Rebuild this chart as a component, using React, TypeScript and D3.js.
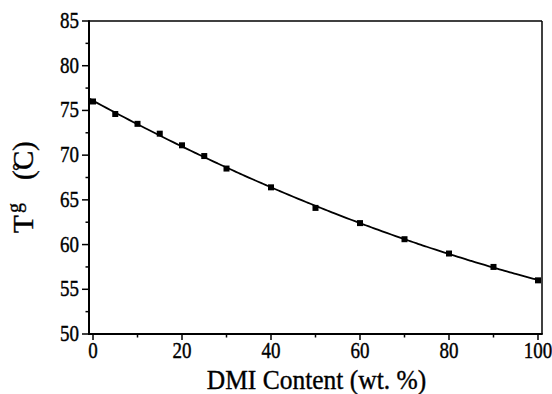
import React from "react";
import * as d3 from "d3";

// DMI content (wt. %) and measured glass transition temperature (°C)
const dmiContent = [0, 5, 10, 15, 20, 25, 30, 40, 50, 60, 70, 80, 90, 100];
const tgValues = [76.0, 74.6, 73.5, 72.4, 71.1, 69.9, 68.5, 66.4, 64.1, 62.4, 60.6, 59.0, 57.5, 56.0];

const xMajorTicks = [0, 20, 40, 60, 80, 100];
const xMinorTicks = [10, 30, 50, 70, 90];
const yMajorTicks = [50, 55, 60, 65, 70, 75, 80, 85];
const yMinorTicks = [52.5, 57.5, 62.5, 67.5, 72.5, 77.5, 82.5];

const W = 552;
const H = 394;
const left = 89;
const right = 542;
const top = 21;
const bottom = 334;

const FONT = "'Liberation Serif', 'Times New Roman', Times, serif";

// Least-squares quadratic fit of Tg against DMI content
function quadFit(xs: number[], ys: number[]) {
  const n = xs.length;
  let s1 = 0, s2 = 0, s3 = 0, s4 = 0, t0 = 0, t1 = 0, t2 = 0;
  for (let i = 0; i < n; i++) {
    const x = xs[i], y = ys[i];
    s1 += x; s2 += x * x; s3 += x * x * x; s4 += x * x * x * x;
    t0 += y; t1 += x * y; t2 += x * x * y;
  }
  const M = [
    [n, s1, s2, t0],
    [s1, s2, s3, t1],
    [s2, s3, s4, t2],
  ];
  for (let c = 0; c < 3; c++) {
    for (let r = c + 1; r < 3; r++) {
      const f = M[r][c] / M[c][c];
      for (let k = c; k < 4; k++) M[r][k] -= f * M[c][k];
    }
  }
  const coef = [0, 0, 0];
  for (let r = 2; r >= 0; r--) {
    let s = M[r][3];
    for (let k = r + 1; k < 3; k++) s -= M[r][k] * coef[k];
    coef[r] = s / M[r][r];
  }
  return (x: number) => coef[0] + coef[1] * x + coef[2] * x * x;
}

// Text drawn at (x, y) with a slight vertical stretch, like the printed figure
function Label(props: {
  x: number;
  y: number;
  size: number;
  anchor?: "start" | "middle" | "end";
  sy?: number;
  children: React.ReactNode;
}) {
  const { x, y, size, anchor = "start", sy = 1, children } = props;
  return (
    <text
      transform={`translate(${x},${y}) scale(1,${sy})`}
      textAnchor={anchor}
      fontSize={size}
      fontFamily={FONT}
      fill="#000"
      stroke="#000"
      strokeWidth={0.35}
    >
      {children}
    </text>
  );
}

export default function App() {
  const x = d3.scaleLinear().domain([-0.9, 100.9]).range([left, right]);
  const y = d3.scaleLinear().domain([50, 85]).range([bottom, top]);
  const fit = quadFit(dmiContent, tgValues);
  const fitXs = [-0.9, ...d3.range(1, 101, 1)];
  const line = d3
    .line<number>()
    .x((d) => x(d))
    .y((d) => y(fit(d)))
    .curve(d3.curveMonotoneX);

  return (
    <svg
      width={W}
      height={H}
      style={{ position: "absolute", left: 0, top: 0, background: "#fff" }}
    >
      {/* frame */}
      <line x1={left} x2={right} y1={top} y2={top} stroke="#000" strokeWidth={1.5} />
      <line x1={right} x2={right} y1={top} y2={bottom} stroke="#000" strokeWidth={1.5} />
      <line x1={left} x2={left} y1={top - 0.75} y2={bottom + 1} stroke="#000" strokeWidth={2} />
      <line x1={left - 1} x2={right + 0.75} y1={bottom} y2={bottom} stroke="#000" strokeWidth={2} />

      {/* y ticks */}
      {yMajorTicks.map((t) => (
        <g key={"ym" + t}>
          <line x1={left - 7} x2={left} y1={y(t)} y2={y(t)} stroke="#000" strokeWidth={1.5} />
          <Label x={left - 10} y={y(t) + 7} size={19} anchor="end" sy={1.18}>
            {t}
          </Label>
        </g>
      ))}
      {yMinorTicks.map((t) => (
        <line key={"yn" + t} x1={left - 3.5} x2={left} y1={y(t)} y2={y(t)} stroke="#000" strokeWidth={1.5} />
      ))}

      {/* x ticks */}
      {xMajorTicks.map((t) => (
        <g key={"xm" + t}>
          <line x1={x(t)} x2={x(t)} y1={bottom} y2={bottom + 6} stroke="#000" strokeWidth={1.5} />
          <Label x={x(t)} y={358} size={19} anchor="middle" sy={1.18}>
            {t}
          </Label>
        </g>
      ))}
      {xMinorTicks.map((t) => (
        <line key={"xn" + t} x1={x(t)} x2={x(t)} y1={bottom} y2={bottom + 3.5} stroke="#000" strokeWidth={1.5} />
      ))}

      {/* fitted curve */}
      <path d={line(fitXs) ?? ""} fill="none" stroke="#000" strokeWidth={1.8} />

      {/* data points */}
      {dmiContent.map((d, i) => (
        <rect
          key={"p" + d}
          x={x(d) - 3}
          y={y(tgValues[i]) - 3}
          width={6}
          height={6}
          fill="#000"
        />
      ))}

      {/* x axis title */}
      <Label x={(left + right) / 2 + 1} y={389} size={25.5} anchor="middle" sy={1.05}>
        DMI Content (wt. %)
      </Label>

      {/* y axis title: T_g (°C), read bottom to top */}
      <g transform="translate(33, 233) rotate(-90)">
        <Label x={0} y={0} size={29}>T</Label>
        <Label x={20} y={-12} size={20}>g</Label>
        <Label x={53} y={0} size={29}>(</Label>
        <Label x={62} y={-6} size={21}>°</Label>
        <Label x={63} y={0} size={29}>C</Label>
        <Label x={82} y={0} size={29}>)</Label>
      </g>
    </svg>
  );
}
